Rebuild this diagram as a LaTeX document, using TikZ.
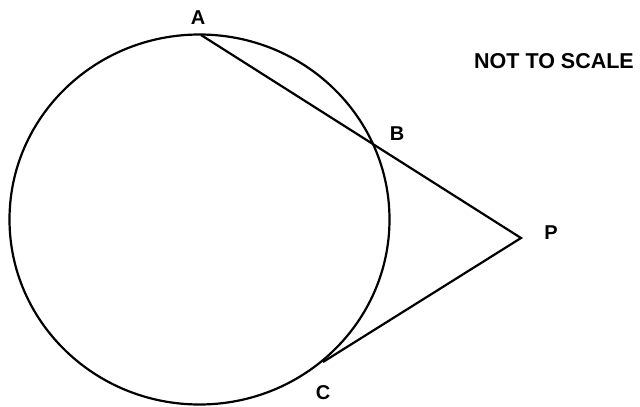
\documentclass[tikz,border=0pt]{standalone}
\usepackage{fontspec}
\setmainfont{Liberation Sans}
\begin{document}
\begin{tikzpicture}[x=1pt,y=-1pt,
  geo/.style={line width=2.2pt, line join=miter},
  lbl/.style={font=\fontsize{20}{23}\selectfont\bfseries, inner sep=0pt}]
\useasboundingbox (0,0) rectangle (640,407);
\coordinate (O) at (199.5,219.5);
\coordinate (A) at (201,35);
\coordinate (B) at (372,143.5);
\coordinate (P) at (521,238);
\coordinate (C) at (323,362);
\draw[geo] (O) ellipse [x radius=190, y radius=185];
\draw[geo] (A) -- (P) -- (C);
\node[lbl] (lA) at (198,18) {A};
\node[lbl] (lB) at (397,134) {B};
\node[lbl] (lP) at (551,233) {P};
\node[lbl] (lC) at (323,393) {C};
\node[lbl, font=\fontsize{21.5}{25}\selectfont\bfseries] (nts) at (554,61) {NOT TO SCALE};
\end{tikzpicture}
\end{document}
